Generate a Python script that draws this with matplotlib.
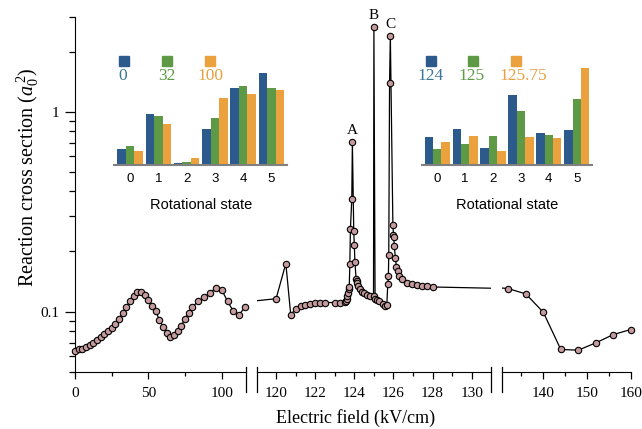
import numpy as np
import matplotlib
matplotlib.use("Agg")
import matplotlib.pyplot as plt
from matplotlib.patches import Rectangle
from matplotlib.ticker import FixedLocator, FixedFormatter, NullFormatter

plt.rcParams["font.family"] = "serif"
plt.rcParams["font.serif"] = ["Liberation Serif", "DejaVu Serif"]
plt.rcParams["mathtext.fontset"] = "custom"
plt.rcParams["mathtext.rm"] = "Liberation Serif"
plt.rcParams["mathtext.it"] = "Liberation Serif:italic"

# Reaction cross section vs electric field (kV/cm)
field = [0, 2.5, 5, 7.5, 10, 12.5, 15, 17.5, 20, 22.5, 25, 27.5, 30, 32.5, 35, 37.5,
         40, 42.5, 45, 47.5, 50, 52.5, 55, 57.5, 60, 62.5, 65, 67.5, 70, 72.5, 75,
         77.5, 80, 84, 88, 92, 96, 100, 104, 108, 112, 116,
         120.0, 120.5, 120.75, 121.0, 121.25, 121.5, 121.75, 122.0, 122.25, 122.5,
         123.0, 123.25, 123.5, 123.58, 123.61, 123.65, 123.68, 123.71, 123.74,
         123.77, 123.8, 123.87, 123.9, 123.97, 124.0, 124.03, 124.09, 124.12,
         124.16, 124.21, 124.3, 124.38, 124.5, 124.64, 124.81, 124.98, 125.0,
         125.06, 125.15, 125.28, 125.49, 125.58, 125.66, 125.71, 125.74, 125.76,
         125.8, 125.84, 125.97, 126.0, 126.02, 126.04, 126.1, 126.15, 126.22,
         126.3, 126.45, 126.68, 126.94, 127.2, 127.45, 127.71, 128.0,
         132, 136, 140, 144, 148, 152, 156, 160]
sigma = [0.0638, 0.0646, 0.0651, 0.0663, 0.0678, 0.0697, 0.0718, 0.0743, 0.0770,
         0.0800, 0.0832, 0.0864, 0.0920, 0.0985, 0.1055, 0.1125, 0.1200, 0.1254,
         0.1249, 0.1206, 0.1148, 0.1072, 0.1003, 0.0912, 0.0838, 0.0782, 0.0747,
         0.0759, 0.0797, 0.0851, 0.0920, 0.0985, 0.1055, 0.1126, 0.1179, 0.1240,
         0.1314, 0.1288, 0.1126, 0.1003, 0.0966, 0.1055,
         0.116, 0.174, 0.0963, 0.1032, 0.1063, 0.1084, 0.1096, 0.1105, 0.1105, 0.111,
         0.111, 0.111, 0.1113, 0.1135, 0.1158, 0.1193, 0.124, 0.1299, 0.133,
         0.173, 0.259, 0.367, 0.71, 0.254, 0.2145, 0.177, 0.146, 0.1417,
         0.139, 0.135, 0.130, 0.126, 0.124, 0.1216, 0.1193, 0.119, 2.67,
         0.1158, 0.114, 0.1126, 0.1093, 0.1063, 0.1084, 0.1375, 0.150, 0.193,
         1.39, 2.41, 0.272, 0.243, 0.235, 0.212, 0.186, 0.168, 0.159,
         0.150, 0.146, 0.139, 0.1375, 0.1365, 0.135, 0.1339, 0.1328,
         0.1303, 0.1226, 0.0992, 0.0646, 0.0641, 0.0697, 0.0767, 0.0813]

# insets: rotational state populations
states = [0, 1, 2, 3, 4, 5]
left_labels = ["0", "32", "100"]
left_blue = [0.16, 0.51, 0.02, 0.36, 0.77, 0.92]
left_green = [0.19, 0.49, 0.03, 0.47, 0.79, 0.77]
left_orange = [0.14, 0.41, 0.07, 0.67, 0.71, 0.75]
right_labels = ["124", "125", "125.75"]
right_blue = [0.28, 0.36, 0.17, 0.70, 0.32, 0.35]
right_green = [0.16, 0.21, 0.29, 0.54, 0.30, 0.66]
right_orange = [0.23, 0.29, 0.14, 0.28, 0.27, 0.97]

W, H = 642, 429


def px_rect(left, top, right, bottom):
    return [left / W, 1 - bottom / H, (right - left) / W, (bottom - top) / H]


fig = plt.figure(figsize=(W / 100, H / 100), dpi=100)

x = np.array(field)
y = np.array(sigma)
face = "#c49a9c"

segments = [((0, 116.6), px_rect(75, 16.6, 246, 371.7)),
            ((119, 131), px_rect(256.5, 16.6, 491.3, 371.7)),
            ((130.5, 160), px_rect(501.8, 16.6, 630.7, 371.7))]
axes = []
for (lo, hi), rect in segments:
    ax = fig.add_axes(rect)
    ax.set_facecolor("none")
    ax.plot(x, y, color="black", lw=0.9, zorder=2)
    m = (x >= lo) & (x <= hi)
    ax.plot(x[m], y[m], "o", ms=4.6, mfc=face, mec="black", mew=0.8,
            clip_on=False, zorder=3)
    ax.set_xlim(lo, hi)
    ax.set_yscale("log")
    ax.set_ylim(0.05, 3)
    ax.spines["top"].set_visible(False)
    ax.spines["right"].set_visible(False)
    ax.tick_params(axis="x", which="major", length=5, width=0.9, pad=6, labelsize=11)
    ax.tick_params(axis="x", which="minor", length=3, width=0.9)
    axes.append(ax)

ax1, ax2, ax3 = axes
ax1.yaxis.set_major_locator(FixedLocator([0.1, 1]))
ax1.yaxis.set_major_formatter(FixedFormatter(["0.1", "1"]))
ax1.yaxis.set_minor_formatter(NullFormatter())
ax1.tick_params(axis="y", which="major", length=7, width=0.9, pad=4, labelsize=11)
ax1.tick_params(axis="y", which="minor", length=4, width=0.9)
ax1.set_ylabel(r"Reaction cross section ($a_0^{\,2}$)", fontsize=14.5)
ax1.yaxis.set_label_coords(-0.2, 0.548)
for ax in (ax2, ax3):
    ax.spines["left"].set_visible(False)
    ax.tick_params(axis="y", which="both", left=False, labelleft=False)

ax1.set_xticks([0, 50, 100])
ax1.set_xticks([25, 75], minor=True)
ax2.set_xticks([120, 122, 124, 126, 128, 130])
ax2.set_xticks([121, 123, 125, 127, 129], minor=True)
ax3.set_xticks([140, 150, 160])
ax3.set_xticks([135, 145, 155], minor=True)

# break marks
for ax, sides in ((ax1, [1]), (ax2, [0, 1]), (ax3, [0])):
    for s in sides:
        ax.plot([s, s], [0.012, -0.058], transform=ax.transAxes, color="black",
                lw=0.9, clip_on=False)

fig.text(356 / W, 1 - 418 / H, "Electric field (kV/cm)", ha="center", va="center",
         fontsize=13)

# peak labels
for name, px, py in (("A", 123.9, 0.71), ("B", 125.0, 2.67), ("C", 125.84, 2.41)):
    ax2.annotate(name, (px, py), xytext=(0, 8), textcoords="offset points",
                 ha="center", va="center", fontsize=11)

# inset bar charts
bar_cols = ["#2d5a8c", "#5e9a46", "#eba23e"]
txt_cols = ["#3b7796", "#5e9a46", "#e8a040"]


def inset(rect, blue, green, orange, labels, label_x):
    ia = fig.add_axes(rect)
    ia.set_facecolor("none")
    s = np.array(states)
    for k, vals in enumerate((blue, green, orange)):
        ia.bar(s + (k - 1) * 0.3, vals, width=0.3, color=bar_cols[k])
    ia.set_xlim(-0.55, 5.55)
    ia.set_ylim(0, 1.15)
    for sp in ("top", "right", "left"):
        ia.spines[sp].set_visible(False)
    ia.spines["bottom"].set_color("#808080")
    ia.spines["bottom"].set_linewidth(1.5)
    ia.set_yticks([])
    ia.set_xticks(states)
    ia.tick_params(axis="x", length=0, pad=6)
    for t in ia.get_xticklabels():
        t.set_family("Liberation Sans")
        t.set_fontsize(9.5)
    ia.set_xlabel("Rotational state", family="Liberation Sans", fontsize=10.5,
                  labelpad=9)
    for k in range(3):
        ia.add_patch(Rectangle((label_x[0][k] - 0.177, 0.99), 0.354, 0.10,
                               color=bar_cols[k], clip_on=False))
        ia.text(label_x[1][k], 0.89, labels[k], color=txt_cols[k], fontsize=12.5,
                ha="center", va="center")
    return ia


inset(px_rect(114.4, 50, 287, 165), left_blue, left_green, left_orange,
      left_labels, ([-0.2, 1.3, 2.83], [-0.25, 1.3, 2.83]))
inset(px_rect(421.9, 50, 592.1, 165), right_blue, right_green, right_orange,
      right_labels, ([-0.22, 1.27, 2.81], [-0.24, 1.23, 3.07]))

fig.savefig("out.png", dpi=100)
